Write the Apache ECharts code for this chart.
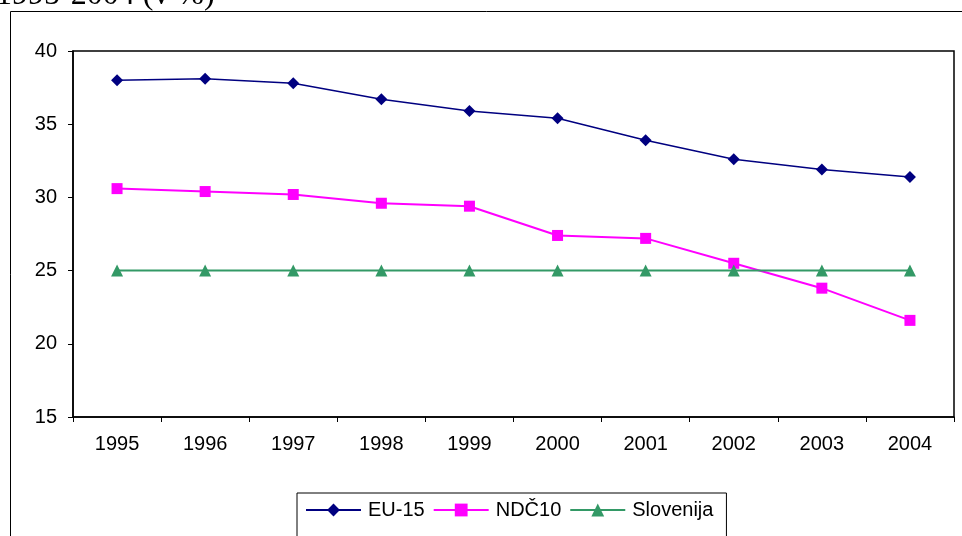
<!DOCTYPE html>
<html>
<head>
<meta charset="utf-8">
<script src="https://cdn.jsdelivr.net/npm/echarts@6/dist/echarts.min.js"></script>
<style>
  html, body { margin: 0; padding: 0; background: #fff; }
  #chart { width: 962px; height: 536px; }
</style>
</head>
<body>
<div id="chart"></div>
<script>
// Years on the category axis
const years = ['1995', '1996', '1997', '1998', '1999', '2000', '2001', '2002', '2003', '2004'];

// Series values (v %)
const eu15 = [38.0, 38.1, 37.8, 36.7, 35.9, 35.4, 33.9, 32.6, 31.9, 31.4];
const ndc10 = [30.6, 30.4, 30.2, 29.6, 29.4, 27.4, 27.2, 25.5, 23.8, 21.6];
const slovenija = [25.0, 25.0, 25.0, 25.0, 25.0, 25.0, 25.0, 25.0, 25.0, 25.0];

// Value axis range
const yMin = 15, yMax = 40, yStep = 5;

const font = '"Liberation Sans", Arial, sans-serif';

const chart = echarts.init(document.getElementById('chart'), null, { renderer: 'canvas' });

function lineSeries(name, data, color, symbol, size, width) {
  return {
    name: name,
    type: 'line',
    data: data,
    symbol: symbol,
    symbolSize: size,
    showAllSymbol: true,
    lineStyle: { color: color, width: width },
    itemStyle: { color: color },
    emphasis: { disabled: true },
    animation: false
  };
}

chart.setOption({
  animation: false,
  backgroundColor: '#fff',
  graphic: [
    {
      type: 'text',
      left: -4,
      top: -20,
      style: { text: '1995-2004 (v %)', font: '32px "Liberation Serif", "Times New Roman", serif', fill: '#000' }
    },
    {
      type: 'rect',
      shape: { x: 10.5, y: 11.5, width: 960, height: 540 },
      style: { fill: 'none', stroke: '#000', lineWidth: 1 },
      silent: true,
      z: -1
    }
  ],
  grid: {
    left: 73, top: 51, right: 8, bottom: 119,
    show: true, borderColor: '#000', borderWidth: 1.5, backgroundColor: 'transparent'
  },
  legend: {
    data: ['EU-15', 'NDČ10', 'Slovenija'],
    left: 297,
    top: 493,
    padding: [7, 13, 30, 8],
    itemGap: 8,
    itemWidth: 55,
    itemHeight: 16,
    borderColor: '#000',
    borderWidth: 1,
    textStyle: { fontFamily: font, fontSize: 20, color: '#000', padding: [0, 0, 0, 2] }
  },
  xAxis: {
    type: 'category',
    data: years,
    boundaryGap: true,
    axisLine: { show: true, lineStyle: { color: '#000', width: 1.5 } },
    axisTick: { show: true, alignWithLabel: false, length: 5, lineStyle: { color: '#000' } },
    axisLabel: { fontFamily: font, fontSize: 20, color: '#000', margin: 17 },
    splitLine: { show: false }
  },
  yAxis: {
    type: 'value',
    min: yMin, max: yMax, interval: yStep,
    axisLine: { show: true, lineStyle: { color: '#000', width: 1.5 } },
    axisTick: { show: true, length: 5, lineStyle: { color: '#000' } },
    axisLabel: { fontFamily: font, fontSize: 20, color: '#000', margin: 16 },
    splitLine: { show: false }
  },
  series: [
    lineSeries('EU-15', eu15, '#000080', 'diamond', 12, 1.5),
    lineSeries('NDČ10', ndc10, '#FF00FF', 'rect', 11, 2),
    lineSeries('Slovenija', slovenija, '#339966', 'triangle', 12, 2)
  ]
});
</script>
</body>
</html>
